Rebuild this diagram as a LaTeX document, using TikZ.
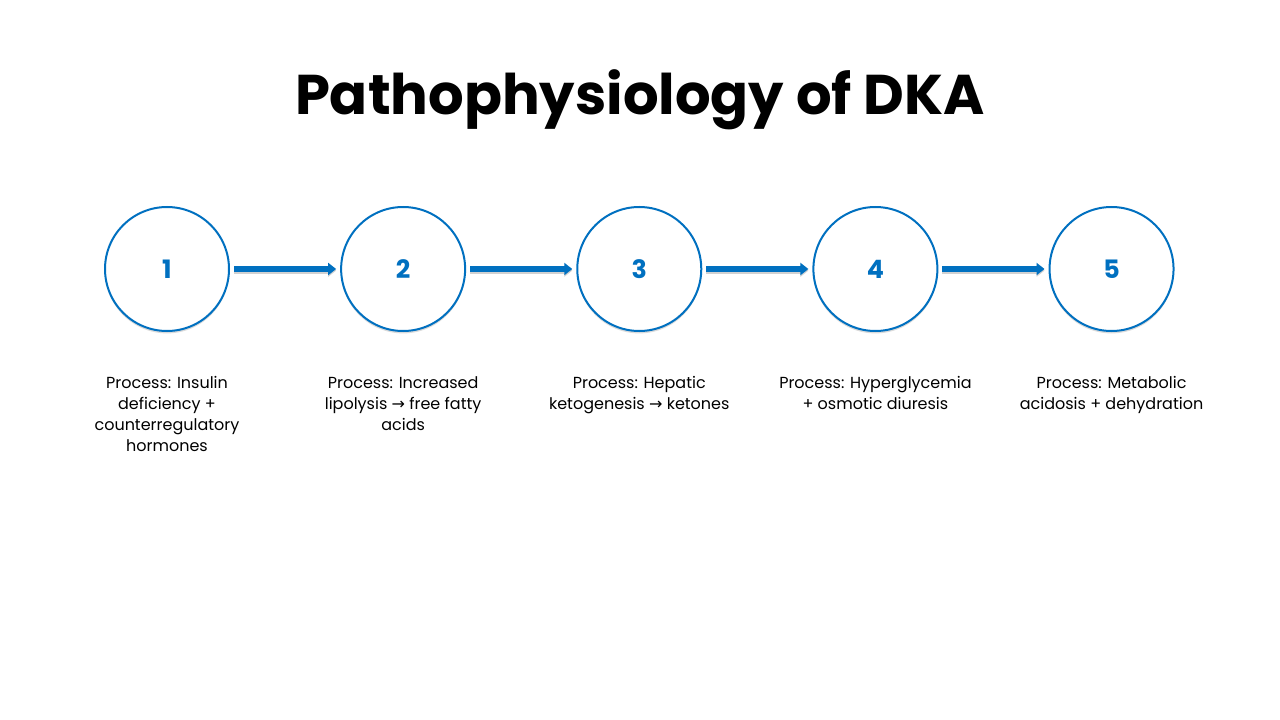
\documentclass[tikz,border=0pt]{standalone}
\usepackage{fontspec}
\setmainfont{Poppins}
\newfontfamily\symfont{DejaVu Sans}
\usetikzlibrary{positioning, arrows.meta}
\definecolor{dkablue}{HTML}{0070C0}
\tikzset{Step/.style={draw=dkablue, line width=1.5pt, circle, minimum size=93pt,
    fill=white, preaction={draw=none, fill=black!14, transform canvas={yshift=-1.8pt}},
    font=\fontsize{19}{20}\selectfont\bfseries, text=dkablue}}
\tikzset{Desc/.style={align=center, font=\fontsize{12}{15.75}\selectfont}}
\tikzset{E/.style={draw=dkablue, line width=4.5pt, -{Triangle[length=6pt, width=9pt]},
    shorten <=3pt, shorten >=3pt}}
\tikzset{Shadow/.style={draw=black!18, line width=4.5pt, -{Triangle[length=6pt, width=9pt]},
    shorten <=3pt, shorten >=3pt}}
\newcommand{\ra}{{\symfont →}}

\begin{document}
\begin{tikzpicture}[node distance=82.6pt]
    \useasboundingbox (0,0) rectangle (960pt,-540pt);

    \node (title) at (480pt,-75pt) {\fontsize{42}{46}\selectfont\bfseries Pathophysiology of DKA};

    %% Steps
    \node[Step] (s1) at (125.25pt,-201.75pt) {1};
    \node[Step, right=of s1] (s2) {2};
    \node[Step, right=of s2] (s3) {3};
    \node[Step, right=of s3] (s4) {4};
    \node[Step, right=of s4] (s5) {5};

    %% Arrows
    \foreach \a/\b in {s1/s2, s2/s3, s3/s4, s4/s5} {
      \draw[Shadow] ([yshift=-1.2pt]\a.east) -- ([yshift=-1.2pt]\b.west);
      \draw[E] (\a) -- (\b);
    }

    %% Descriptions
    \node[Desc, below=30pt of s1, anchor=north] (d1) {Process: Insulin\\ deficiency +\\ counterregulatory\\ hormones};
    \node[Desc, below=30pt of s2, anchor=north] (d2) {Process: Increased\\ lipolysis \ra\ free fatty\\ acids};
    \node[Desc, below=30pt of s3, anchor=north] (d3) {Process: Hepatic\\ ketogenesis \ra\ ketones};
    \node[Desc, below=30pt of s4, anchor=north] (d4) {Process: Hyperglycemia\\ + osmotic diuresis};
    \node[Desc, below=30pt of s5, anchor=north] (d5) {Process: Metabolic\\ acidosis + dehydration};

\end{tikzpicture}
\end{document}
